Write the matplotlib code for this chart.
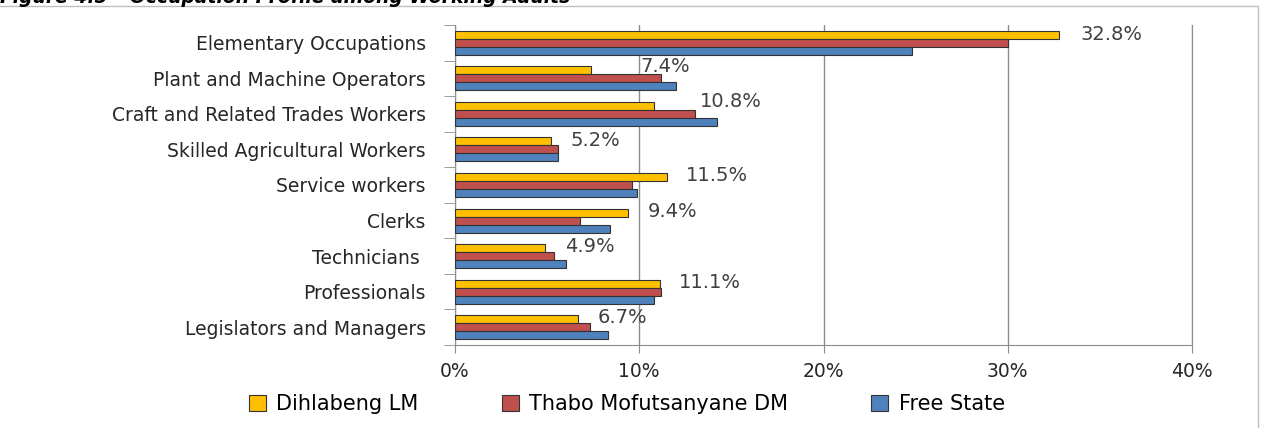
import numpy as np
import matplotlib
matplotlib.use("Agg")
import matplotlib.pyplot as plt
from matplotlib.patches import Rectangle
from matplotlib.ticker import FuncFormatter, MultipleLocator

categories = ["Legislators and Managers", "Professionals", "Technicians ",
              "Clerks", "Service workers", "Skilled Agricultural Workers",
              "Craft and Related Trades Workers", "Plant and Machine Operators",
              "Elementary Occupations"]
dihlabeng = [6.7, 11.1, 4.9, 9.4, 11.5, 5.2, 10.8, 7.4, 32.8]
thabo = [7.3, 11.2, 5.4, 6.8, 9.6, 5.6, 13.0, 11.2, 30.0]
free_state = [8.3, 10.8, 6.0, 8.4, 9.9, 5.6, 14.2, 12.0, 24.8]
series_names = ["Dihlabeng LM", "Thabo Mofutsanyane DM", "Free State"]
colors = ["#FFC000", "#C0504D", "#4F81BD"]

# label offsets (points) so labels sit as in the original layout
label_dx = [14, 14, 14, 14, 14, 14, 33, 35, 15]
label_dy = [1, 1, 1, 1, 1, 1, 3, 3, 0]

fig = plt.figure(figsize=(12.62, 4.28), dpi=100)
ax = fig.add_axes([455 / 1262, 83 / 428, 737 / 1262, 320 / 428])

y = np.arange(len(categories))
h = 0.225
for i, (vals, c) in enumerate(zip([dihlabeng, thabo, free_state], colors)):
    ax.barh(y + h * (1 - i), vals, height=h, color=c, edgecolor="#333333",
            linewidth=0.8, label=series_names[i], zorder=3)

for k, v in enumerate(dihlabeng):
    ax.annotate(f"{v:.1f}%", (v, y[k] + h), xytext=(label_dx[k], label_dy[k]),
                textcoords="offset points", va="center", ha="left",
                fontsize=14, color="#404040", family="DejaVu Sans")

ax.set_xlim(0, 40)
ax.set_ylim(-0.5, len(categories) - 0.5)
ax.xaxis.set_major_locator(MultipleLocator(10))
ax.xaxis.set_major_formatter(FuncFormatter(lambda v, p: f"{v:.0f}%"))
ax.set_yticks(y)
ax.set_yticklabels(categories, fontsize=13.5, color="#262626")
ax.set_yticks(np.arange(-0.5, len(categories), 1), minor=True)
ax.tick_params(axis="y", which="major", length=0, pad=21)
ax.tick_params(axis="y", which="minor", length=8, color="#8c8c8c")
ax.tick_params(axis="x", length=6, color="#8c8c8c", labelsize=13.5,
               labelcolor="#262626", pad=6)
ax.grid(axis="x", color="#8c8c8c", linewidth=1, zorder=0)
ax.spines["top"].set_visible(False)
for s in ["left", "bottom", "right"]:
    ax.spines[s].set_color("#8c8c8c")

fig.legend(*ax.get_legend_handles_labels(), loc="center",
           bbox_to_anchor=(627 / 1262, 24 / 428), ncol=3, frameon=False,
           handlelength=0.8, handleheight=0.8, columnspacing=4.0,
           handletextpad=0.5, prop={"family": "DejaVu Sans", "size": 15})

# outer chart frame
fig.patches.append(Rectangle((-0.01, -0.01), 0.01 + 1258 / 1262, 1 - 6 / 428 + 0.01,
                             transform=fig.transFigure, fill=False,
                             edgecolor="#bfbfbf", linewidth=1))

# clipped figure caption at the very top
fig.text(0.0, 1 - 3 / 428, "Figure 4.5 \u2013 Occupation Profile among Working Adults",
         fontsize=13.5, fontweight="bold", fontstyle="italic", va="baseline",
         ha="left", family="DejaVu Sans")

fig.savefig("out.png", dpi=100)
